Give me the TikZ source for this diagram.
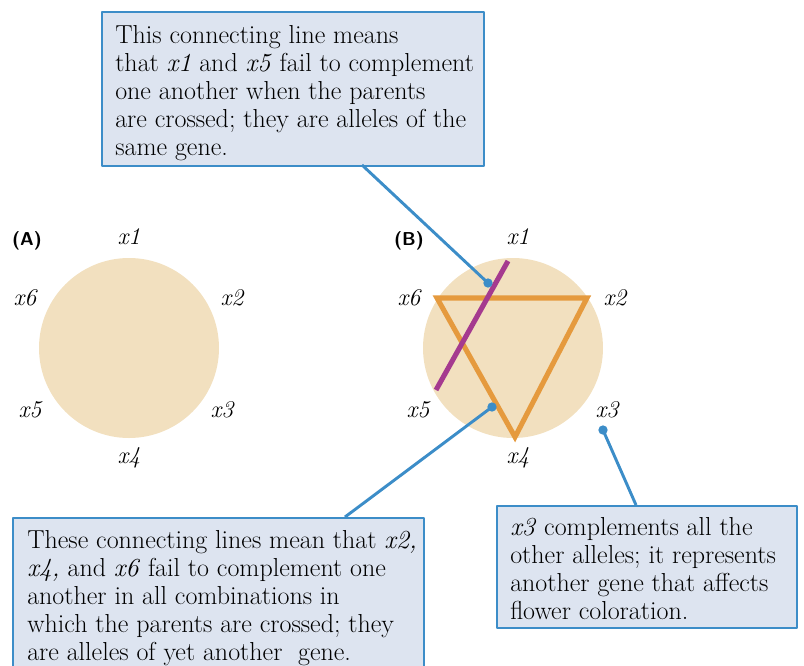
\documentclass[tikz,border=0pt]{standalone}
\usepackage{fontspec}
\usepackage{tikz}
\usetikzlibrary{arrows.meta}
\definecolor{boxfill}{HTML}{DDE4F0}
\definecolor{boxline}{HTML}{3C8DC8}
\definecolor{disc}{HTML}{F2E0BF}
\definecolor{triline}{HTML}{E59A3E}
\definecolor{pairline}{HTML}{A53A8F}
\tikzset{
  every picture/.style={line join=round, line cap=round, >=Stealth},
  callbox/.style={draw=boxline, fill=boxfill, line width=1.3pt, anchor=north west,
    inner sep=0pt},
  calltext/.style={anchor=north west, align=left, inner sep=0pt,
    font=\fontsize{19.5}{21}\selectfont},
  callline/.style={draw=boxline, line width=2.2pt, line cap=butt},
  dotend/.style={circle, fill=boxline, inner sep=0pt, minimum size=7pt},
  allele/.style={font=\fontsize{18}{20}\selectfont\itshape},
  panel/.style={font=\fontsize{14}{16}\selectfont\sffamily\bfseries},
}
\begin{document}
\begin{tikzpicture}[x=0.75pt,y=-0.75pt]
\useasboundingbox (0,0) rectangle (804,665);
% panel A
\fill[disc] (129,348) circle (90);
\node[panel] (labA) at (27,241) {(A)};
\node[allele] (a1) at (129,237) {x1};
\node[allele] (a2) at (232,298) {x2};
\node[allele] (a3) at (222,410) {x3};
\node[allele] (a4) at (129,458) {x4};
\node[allele] (a5) at (30,410) {x5};
\node[allele] (a6) at (25,298) {x6};
% panel B
\fill[disc] (513,348) circle (90);
\node[panel] (labB) at (409,241) {(B)};
\node[allele] (b1) at (518,237) {x1};
\node[allele] (b2) at (615,298) {x2};
\node[allele] (b3) at (607,410) {x3};
\node[allele] (b4) at (518,458) {x4};
\node[allele] (b5) at (418,410) {x5};
\node[allele] (b6) at (409,298) {x6};
\draw[triline, line width=3.8pt, line cap=butt, line join=miter] (437,298) -- (587,298) -- (515,437) -- cycle;
\draw[pairline, line width=3.8pt, line cap=butt] (508,261) -- (436,390);
% callout boxes
\node[callbox, minimum width=286.5pt, minimum height=115.5pt] (note1) at (101,11) {};
\node[callbox, minimum width=308.3pt, minimum height=114pt] (note2) at (12,517) {};
\node[callbox, minimum width=225pt, minimum height=91.5pt] (note3) at (496,505) {};
\node[calltext] (text1) at (115,25)
  {This connecting line means\\
   that \textit{x1} and \textit{x5} fail to complement\\
   one another when the parents\\
   are crossed; they are alleles of the\\
   same gene.};
\node[calltext] (text2) at (27,530.5)
  {These connecting lines mean that \textit{x2,}\\
   \textit{x4,} and \textit{x6} fail to complement one\\
   another in all combinations in\\
   which the parents are crossed; they\\
   are alleles of yet another\ \ gene.};
\node[calltext] (text3) at (510,517)
  {\textit{x3} complements all the\\
   other alleles; it represents\\
   another gene that affects\\
   flower coloration.};
% pointers
\node[dotend] (d1) at (488,283) {};
\node[dotend] (d2) at (492,407) {};
\node[dotend] (d3) at (603,430) {};
\coordinate (t1) at (362,165);
\coordinate (t2) at (345,517);
\coordinate (t3) at (636,505);
\draw[callline] (t1) -- (d1.center);
\draw[callline] (d2.center) -- (t2);
\draw[callline] (d3.center) -- (t3);
\end{tikzpicture}
\end{document}
